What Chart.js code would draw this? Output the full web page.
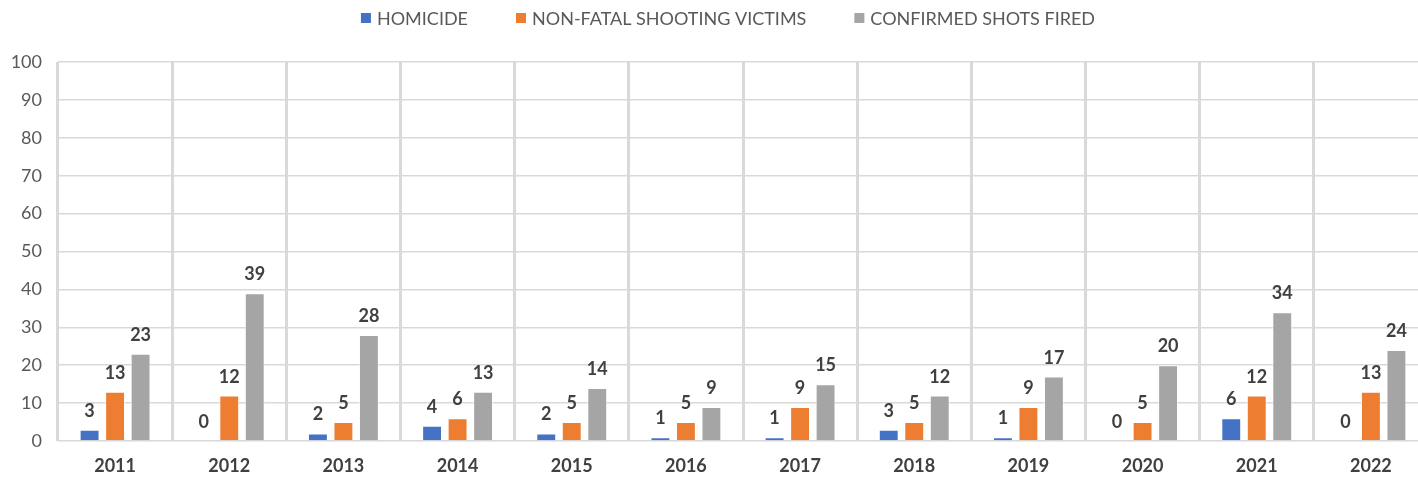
<!DOCTYPE html>
<html>
<head>
<meta charset="utf-8">
<script src="https://cdn.jsdelivr.net/npm/chart.js@4"></script>
<style>
  html, body { margin: 0; padding: 0; background: #fff; overflow: hidden; }
  #wrap { width: 1460px; height: 482px; }
</style>
</head>
<body>
<div id="wrap"><canvas id="chart" width="1460" height="482"></canvas></div>
<script>
// data
const years = ["2011", "2012", "2013", "2014", "2015", "2016", "2017", "2018", "2019", "2020", "2021", "2022"];
const homicide = [3, 0, 2, 4, 2, 1, 1, 3, 1, 0, 6, 0];
const nonFatal = [13, 12, 5, 6, 5, 5, 9, 5, 9, 5, 12, 13];
const shotsFired = [23, 39, 28, 13, 14, 9, 15, 12, 17, 20, 34, 24];
const yTicks = [0, 10, 20, 30, 40, 50, 60, 70, 80, 90, 100];

const FONT = "Lato, 'Open Sans', sans-serif";

// value labels above each bar
const barLabels = {
  id: "barLabels",
  afterDatasetsDraw(chart) {
    const ctx = chart.ctx;
    ctx.save();
    ctx.font = "bold 18px " + FONT;
    ctx.fillStyle = "#404040";
    ctx.textAlign = "center";
    ctx.textBaseline = "alphabetic";
    chart.data.datasets.forEach((ds, i) => {
      chart.getDatasetMeta(i).data.forEach((bar, j) => {
        ctx.fillText(String(ds.data[j]), bar.x, bar.y - 13);
      });
    });
    ctx.restore();
  },
};

// legend drawn by hand so it can sit close to the top with wide gaps
const topLegend = {
  id: "topLegend",
  afterDraw(chart) {
    const ctx = chart.ctx;
    ctx.save();
    ctx.font = "18px " + FONT;
    ctx.textBaseline = "middle";
    const box = 10, gapText = 6, gapItem = 48, cy = 18;
    const items = chart.data.datasets.map((ds) => ({
      text: ds.label,
      color: ds.backgroundColor,
      w: box + gapText + ctx.measureText(ds.label).width,
    }));
    const total = items.reduce((s, it) => s + it.w, 0) + gapItem * (items.length - 1);
    let x = 728 - total / 2;
    items.forEach((it) => {
      ctx.fillStyle = it.color;
      ctx.fillRect(x, cy - box / 2, box, box);
      ctx.fillStyle = "#595959";
      ctx.fillText(it.text, x + box + gapText, cy + 1);
      x += it.w + gapItem;
    });
    ctx.restore();
  },
};

new Chart(document.getElementById("chart"), {
  type: "bar",
  data: {
    labels: years,
    datasets: [
      { label: "HOMICIDE", data: homicide, backgroundColor: "#4472c4" },
      { label: "NON-FATAL SHOOTING VICTIMS", data: nonFatal, backgroundColor: "#ed7d31" },
      { label: "CONFIRMED SHOTS FIRED", data: shotsFired, backgroundColor: "#a5a5a5" },
    ].map((d) => ({
      ...d,
      borderColor: "rgba(255,255,255,0.6)",
      borderWidth: 1,
      categoryPercentage: 0.67,
      barPercentage: 0.78,
    })),
  },
  plugins: [barLabels, topLegend],
  options: {
    responsive: false,
    animation: false,
    layout: { padding: { left: 0, right: 32, top: 62, bottom: 5 } },
    plugins: {
      legend: { display: false },
      tooltip: { enabled: false },
    },
    scales: {
      x: {
        afterFit: (scale) => {
          scale.height = 36;
        },
        grid: { offset: true, color: "#d9d9d9", lineWidth: 3, drawTicks: false },
        border: { display: false },
        ticks: {
          font: { family: FONT, size: 18, weight: "bold" },
          color: "#404040",
          padding: 14,
        },
      },
      y: {
        min: 0,
        max: 100,
        afterBuildTicks: (scale) => {
          scale.ticks = yTicks.map((v) => ({ value: v }));
        },
        afterFit: (scale) => {
          scale.width = 58;
        },
        grid: { color: "#d9d9d9", lineWidth: 1.5, drawTicks: false },
        border: { display: false },
        ticks: {
          font: { family: FONT, size: 18 },
          color: "#595959",
          padding: 16,
        },
      },
    },
  },
});
</script>
</body>
</html>
